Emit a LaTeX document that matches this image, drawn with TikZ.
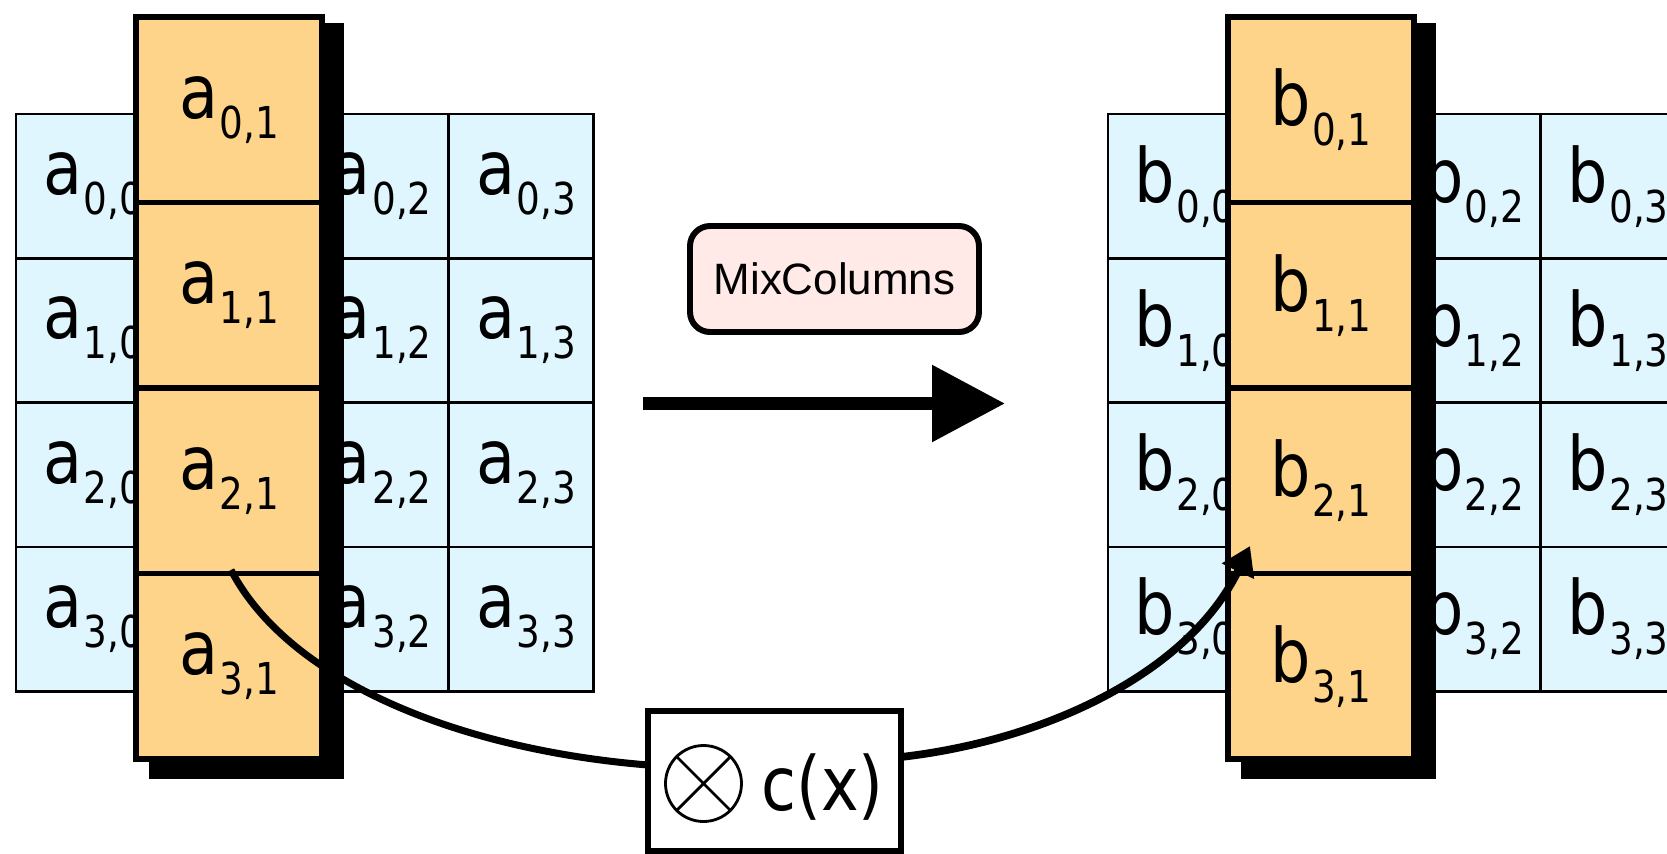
\documentclass[tikz,border=0pt]{standalone}
\usepackage{fontspec}
\usetikzlibrary{arrows.meta}
\newfontfamily\cellfont[FakeStretch=0.85]{DejaVu Sans}
\newfontfamily\boxfont{Liberation Sans}
\definecolor{statecyan}{HTML}{E0F6FF}
\definecolor{colorange}{HTML}{FDD48A}
\definecolor{mixpink}{HTML}{FFEAE8}
% one state byte: letter with row,column index
\newcommand{\entry}[3]{{\fontsize{21.3}{24}\cellfont #1\kern0.4pt\raisebox{-5.7pt}{\fontsize{12.5}{14}\selectfont #2,#3}}}

\begin{document}
\begin{tikzpicture}[
    cell/.style={draw, line width=0.8pt, fill=statecyan, minimum size=1.443cm, inner sep=0pt},
    colcell/.style={draw, line width=1.7pt, fill=colorange, minimum size=1.855cm, inner sep=0pt},
    mixbox/.style={draw, line width=1.7pt, rounded corners=2mm, fill=mixpink, minimum width=2.89cm, minimum height=1.06cm, font={\fontsize{12.5}{14}\boxfont}},
    multbox/.style={draw, line width=1.9pt, fill=white, minimum width=2.53cm, minimum height=1.40cm}
  ]
  \useasboundingbox (0,0) rectangle (16.67,-8.54);
  \clip (0,0) rectangle (16.67,-8.54);

  % input state a (left) and output state b (right)
  \foreach \m/\dx in {a/0, b/10.92} {
    \begin{scope}[xshift=\dx cm]
      \foreach \r in {0,...,3}
        \foreach \c in {0,2,3}
          \node[cell] (\m\r\c) at ({0.16+1.443*(\c+0.5)},{-1.14-1.443*(\r+0.5)}) {\hspace*{0.1cm}\entry{\m}{\r}{\c}};
      % column 1, lifted out with a shadow
      \fill (1.49,-0.23) rectangle (3.44,-7.79);
      \foreach \r in {0,...,3}
        \node[colcell] (\m\r1) at (2.29,{-0.17-1.855*(\r+0.5)}) {\entry{\m}{\r}{1}};
    \end{scope}
  }

  \node[mixbox] (mix) at (8.345,-2.79) {MixColumns};
  \coordinate (go) at (6.43,-4.035);
  \coordinate (stop) at (10.05,-4.035);
  \draw[line width=3.6pt, -{Triangle[length=7.3mm,width=7.4mm]}] (go) -- (stop);

  % column times c(x)
  \coordinate (src) at ([shift={(0.02,0.065)}]a21.south);
  \coordinate (dst) at ([shift={(0.2475,0.305)}]b21.south west);
  \draw[line width=2pt] (src) .. controls +(0.59,-1.13) and +(-1.85,0.15) .. (6.48,-7.65);
  \draw[line width=2.2pt, -{Triangle[length=2.8mm,width=3.4mm]}] (9.01,-7.57) .. controls +(1.48,0.17) and +(-0.6,-1.25) .. (dst);

  \node[multbox] (mult) at (7.745,-7.81) {};
  \node[draw, circle, line width=0.8pt, minimum size=0.76cm, inner sep=0pt] (otimes) at (7.035,-7.835) {};
  \draw[line width=0.8pt] (otimes.north west) -- (otimes.south east) (otimes.north east) -- (otimes.south west);
  \node[anchor=base, inner sep=0pt, font={\fontsize{21.3}{24}\cellfont}] (cx) at (8.225,-8.10) {c(x)};
\end{tikzpicture}
\end{document}
